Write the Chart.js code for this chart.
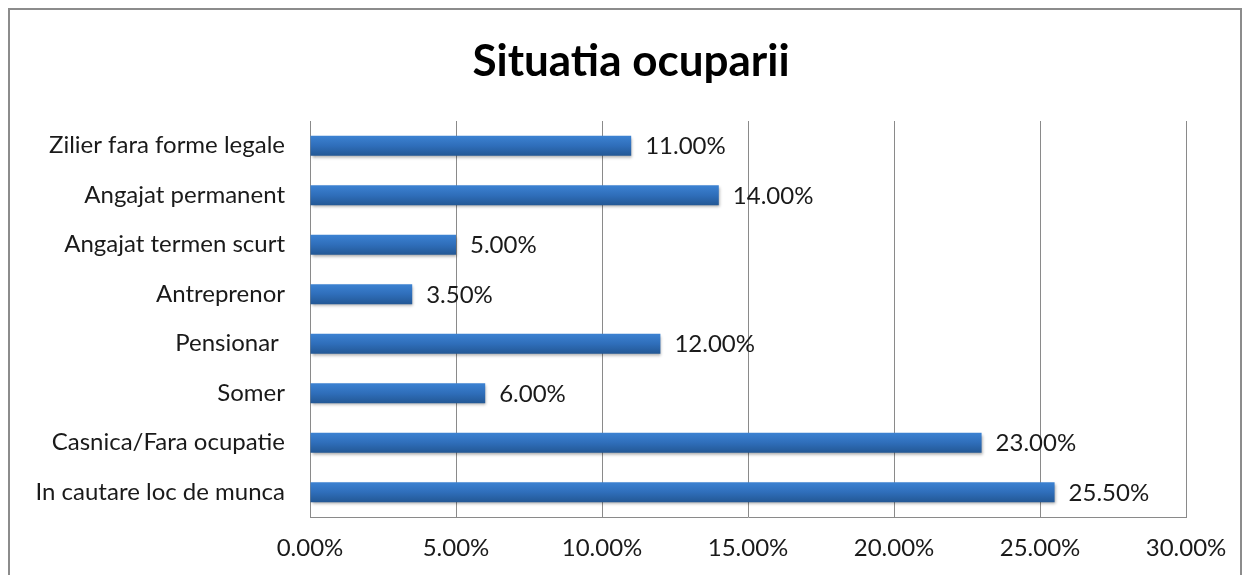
<!DOCTYPE html>
<html>
<head>
<meta charset="utf-8">
<script src="https://cdn.jsdelivr.net/npm/chart.js@4.4.1/dist/chart.umd.min.js"></script>
<style>
    html, body { margin: 0; padding: 0; background: #fff; }
    #wrap { position: relative; width: 1244px; height: 575px; overflow: hidden; }
    #frame { position: absolute; left: 8px; top: 8px; width: 1230px; height: 620px; border: 2px solid #8c8c8c; }
    #myChart { position: absolute; left: 0; top: 0; }
</style>
</head>
<body>
<div id="wrap">
    <div id="frame"></div>
    <canvas id="myChart" width="1244" height="575"></canvas>
</div>
<script>
const titulo = 'Situatia ocuparii';
const categorias = [
    'Zilier fara forme legale',
    'Angajat permanent',
    'Angajat termen scurt',
    'Antreprenor',
    'Pensionar ',
    'Somer',
    'Casnica/Fara ocupatie',
    'In cautare loc de munca'
];
const valores = [11, 14, 5, 3.5, 12, 6, 23, 25.5];
const ticksX = [0, 5, 10, 15, 20, 25, 30];

const fuente = 'Lato, "Open Sans", sans-serif';

// degradado de cada barra + sombra
const barrasPlugin = {
    id: 'barras',
    beforeDatasetsDraw(chart) {
        const ctx = chart.ctx;
        chart.getDatasetMeta(0).data.forEach(bar => {
            const h = bar.height;
            const g = ctx.createLinearGradient(0, bar.y - h / 2, 0, bar.y + h / 2);
            g.addColorStop(0, '#3c82d2');
            g.addColorStop(0.5, '#2f6eba');
            g.addColorStop(1, '#235895');
            bar.options = Object.assign({}, bar.options, { backgroundColor: g });
        });
        ctx.save();
        ctx.shadowColor = 'rgba(0,0,0,0.35)';
        ctx.shadowBlur = 3;
        ctx.shadowOffsetX = 1;
        ctx.shadowOffsetY = 2;
    },
    afterDatasetsDraw(chart) {
        const ctx = chart.ctx;
        ctx.restore();
        ctx.save();
        ctx.font = '24px ' + fuente;
        ctx.fillStyle = '#1a1a1a';
        ctx.textBaseline = 'middle';
        ctx.textAlign = 'left';
        chart.getDatasetMeta(0).data.forEach((bar, i) => {
            ctx.fillText(valores[i].toFixed(2) + '%', bar.x + 14, bar.y + 1);
        });
        ctx.restore();
    },
    afterDraw(chart) {
        const ctx = chart.ctx;
        ctx.save();
        ctx.font = 'bold 44px ' + fuente;
        ctx.fillStyle = '#000';
        ctx.textAlign = 'center';
        ctx.textBaseline = 'alphabetic';
        ctx.fillText(titulo, 631, 76);
        ctx.restore();
    }
};

var ctx1 = document.getElementById('myChart').getContext('2d');
var myChart1 = new Chart(ctx1, {
    type: 'bar',
    data: {
        labels: categorias,
        datasets: [{
            label: titulo,
            data: valores,
            backgroundColor: '#2f6eba',
            borderWidth: 0,
            barPercentage: 0.4,
            categoryPercentage: 1
        }]
    },
    options: {
        indexAxis: 'y',
        responsive: false,
        animation: false,
        layout: {
            padding: { top: 121, right: 58, bottom: 0, left: 0 }
        },
        plugins: {
            legend: { display: false },
            title: { display: false },
            tooltip: { enabled: false }
        },
        scales: {
            x: {
                min: 0,
                max: 30,
                afterFit(scale) { scale.height = 58; },
                afterBuildTicks(scale) { scale.ticks = ticksX.map(v => ({ value: v })); },
                grid: { color: '#8a8a8a', lineWidth: 1, drawTicks: false },
                border: { color: '#8a8a8a', width: 1 },
                ticks: {
                    padding: 17,
                    color: '#1a1a1a',
                    font: { family: fuente, size: 24 },
                    callback: v => v.toFixed(2) + '%'
                }
            },
            y: {
                afterFit(scale) { scale.width = 310; },
                grid: { display: false, drawTicks: false },
                border: { color: '#8a8a8a', width: 1 },
                ticks: {
                    padding: 25,
                    color: '#1a1a1a',
                    font: { family: fuente, size: 24 }
                }
            }
        }
    },
    plugins: [barrasPlugin]
});
</script>
</body>
</html>
